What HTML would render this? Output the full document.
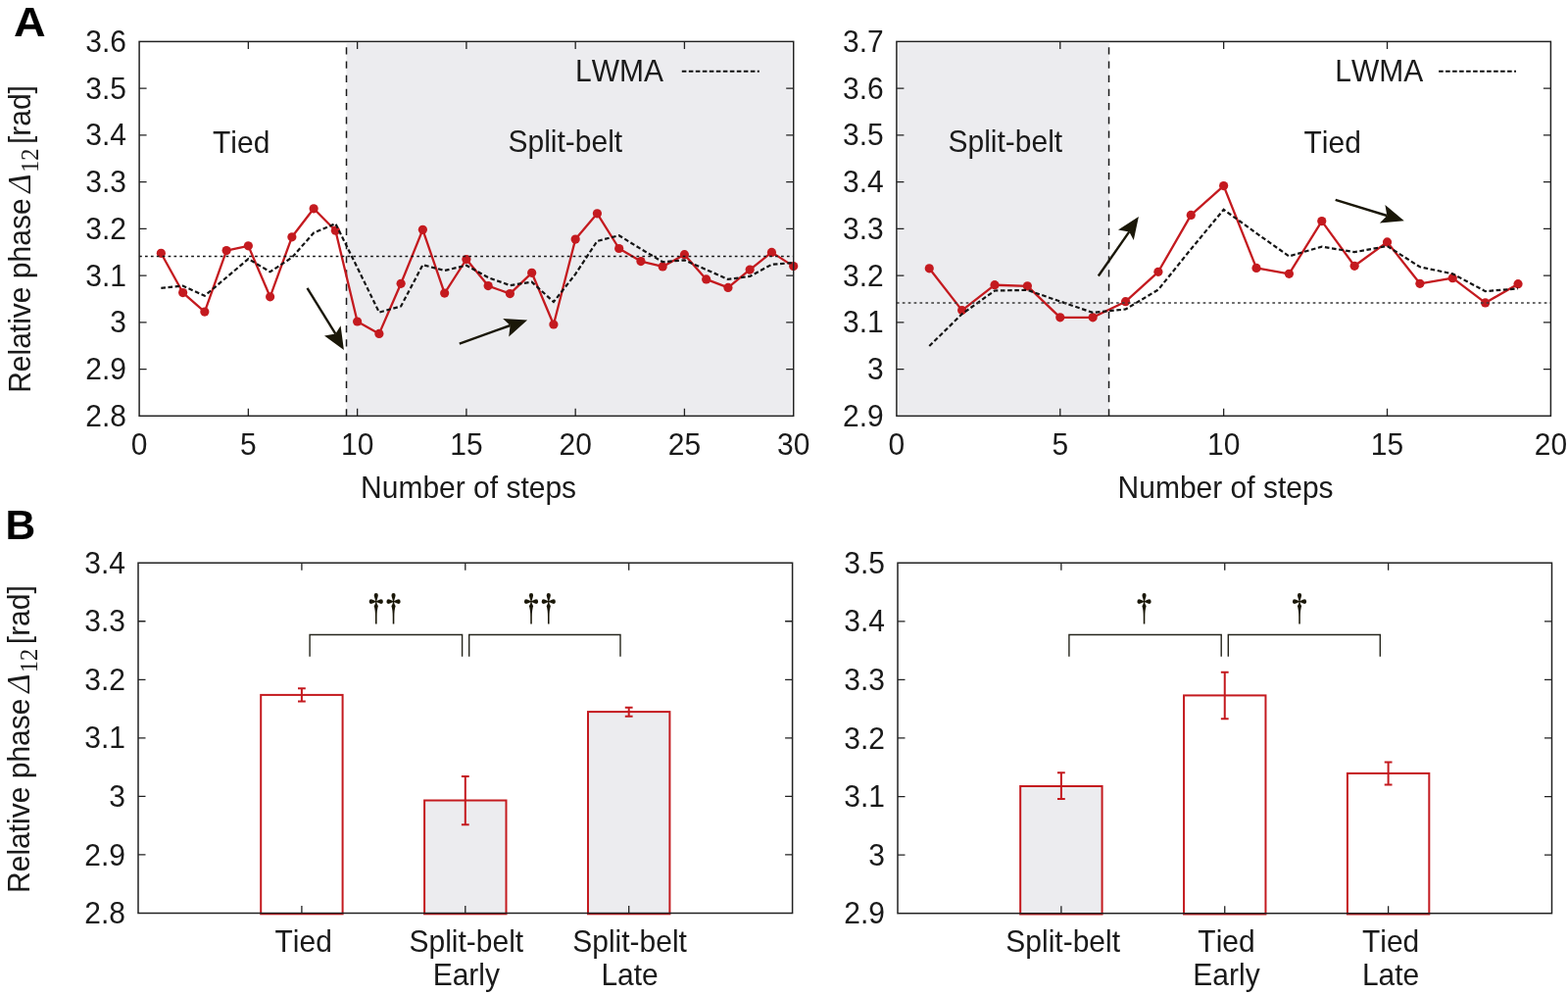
<!DOCTYPE html><html><head><meta charset="utf-8"><title>Relative phase figure</title><style>html,body{margin:0;padding:0;background:#fff;overflow:hidden}svg{display:block}</style></head><body>
<svg width="1600" height="1015" viewBox="0 0 1600 1015" style="font-family:'Liberation Sans',Arial,Helvetica,sans-serif;font-size:30px;font-kerning:none" fill="#1a1a1a">
<rect x="353.51" y="44" width="454.59" height="378.7" fill="#ececef"/>
<line x1="353.51" y1="48.3" x2="353.51" y2="424.3" stroke="#1a1a1a" stroke-width="1.5" stroke-dasharray="7.2 6.99"/>
<polyline points="164.35,258.3 186.61,298.56 208.86,318.1 231.11,255.6 253.37,250.8 275.62,302.8 297.87,241.8 320.13,212.8 342.38,235.2 364.63,328 386.89,340.4 409.14,289.3 431.39,234.3 453.65,299.1 475.9,264.5 498.15,291.6 520.41,299.6 542.66,278.3 564.91,331 587.17,244.1 609.42,217.8 631.67,253.5 653.93,266.6 676.18,271.9 698.43,259.7 720.69,284.9 742.94,293.4 765.19,275.1 787.45,257.4 809.7,271.6" fill="none" stroke="#c41a1f" stroke-width="2.3" stroke-linejoin="round"/>
<circle cx="164.35" cy="258.3" r="4.6" fill="#c41a1f"/>
<circle cx="186.61" cy="298.56" r="4.6" fill="#c41a1f"/>
<circle cx="208.86" cy="318.1" r="4.6" fill="#c41a1f"/>
<circle cx="231.11" cy="255.6" r="4.6" fill="#c41a1f"/>
<circle cx="253.37" cy="250.8" r="4.6" fill="#c41a1f"/>
<circle cx="275.62" cy="302.8" r="4.6" fill="#c41a1f"/>
<circle cx="297.87" cy="241.8" r="4.6" fill="#c41a1f"/>
<circle cx="320.13" cy="212.8" r="4.6" fill="#c41a1f"/>
<circle cx="342.38" cy="235.2" r="4.6" fill="#c41a1f"/>
<circle cx="364.63" cy="328" r="4.6" fill="#c41a1f"/>
<circle cx="386.89" cy="340.4" r="4.6" fill="#c41a1f"/>
<circle cx="409.14" cy="289.3" r="4.6" fill="#c41a1f"/>
<circle cx="431.39" cy="234.3" r="4.6" fill="#c41a1f"/>
<circle cx="453.65" cy="299.1" r="4.6" fill="#c41a1f"/>
<circle cx="475.9" cy="264.5" r="4.6" fill="#c41a1f"/>
<circle cx="498.15" cy="291.6" r="4.6" fill="#c41a1f"/>
<circle cx="520.41" cy="299.6" r="4.6" fill="#c41a1f"/>
<circle cx="542.66" cy="278.3" r="4.6" fill="#c41a1f"/>
<circle cx="564.91" cy="331" r="4.6" fill="#c41a1f"/>
<circle cx="587.17" cy="244.1" r="4.6" fill="#c41a1f"/>
<circle cx="609.42" cy="217.8" r="4.6" fill="#c41a1f"/>
<circle cx="631.67" cy="253.5" r="4.6" fill="#c41a1f"/>
<circle cx="653.93" cy="266.6" r="4.6" fill="#c41a1f"/>
<circle cx="676.18" cy="271.9" r="4.6" fill="#c41a1f"/>
<circle cx="698.43" cy="259.7" r="4.6" fill="#c41a1f"/>
<circle cx="720.69" cy="284.9" r="4.6" fill="#c41a1f"/>
<circle cx="742.94" cy="293.4" r="4.6" fill="#c41a1f"/>
<circle cx="765.19" cy="275.1" r="4.6" fill="#c41a1f"/>
<circle cx="787.45" cy="257.4" r="4.6" fill="#c41a1f"/>
<circle cx="809.7" cy="271.6" r="4.6" fill="#c41a1f"/>
<polyline points="164.35,293.8 186.61,291.6 208.86,301.75 231.11,283 253.37,264.1 275.62,277.3 297.87,262.7 320.13,237.5 342.38,228.1 364.63,273 386.89,318.6 409.14,312.4 431.39,270.2 453.65,276 475.9,270.7 498.15,283.1 520.41,291.1 542.66,287.6 564.91,308 587.17,279.6 609.42,245.9 631.67,240.2 653.93,253.9 676.18,267.2 698.43,265.4 720.69,275.1 742.94,284.9 765.19,281.9 787.45,269.8 809.7,268" fill="none" stroke="#141414" stroke-width="2.2" stroke-dasharray="4.6 2.6"/>
<line x1="142.1" y1="261.43" x2="809.7" y2="261.43" stroke="#151515" stroke-width="1.4" stroke-dasharray="2.7 3.2"/>
<path d="M253.37 424.3V416.8M253.37 42.4V49.9M364.63 424.3V416.8M364.63 42.4V49.9M475.9 424.3V416.8M475.9 42.4V49.9M587.17 424.3V416.8M587.17 42.4V49.9M698.43 424.3V416.8M698.43 42.4V49.9M142.1 376.56H149.6M809.7 376.56H802.2M142.1 328.82H149.6M809.7 328.82H802.2M142.1 281.09H149.6M809.7 281.09H802.2M142.1 233.35H149.6M809.7 233.35H802.2M142.1 185.61H149.6M809.7 185.61H802.2M142.1 137.88H149.6M809.7 137.88H802.2M142.1 90.14H149.6M809.7 90.14H802.2" stroke="#222" stroke-width="1.3" fill="none"/>
<rect x="142.1" y="42.4" width="667.6" height="381.9" fill="none" stroke="#222" stroke-width="1.5"/>
<text transform="translate(142.1 463.8) scale(1 1.035)" text-anchor="middle">0</text>
<text transform="translate(253.37 463.8) scale(1 1.035)" text-anchor="middle">5</text>
<text transform="translate(364.63 463.8) scale(1 1.035)" text-anchor="middle">10</text>
<text transform="translate(475.9 463.8) scale(1 1.035)" text-anchor="middle">15</text>
<text transform="translate(587.17 463.8) scale(1 1.035)" text-anchor="middle">20</text>
<text transform="translate(698.43 463.8) scale(1 1.035)" text-anchor="middle">25</text>
<text transform="translate(809.7 463.8) scale(1 1.035)" text-anchor="middle">30</text>
<text transform="translate(129 434.9) scale(1 1.035)" text-anchor="end">2.8</text>
<text transform="translate(129 387.16) scale(1 1.035)" text-anchor="end">2.9</text>
<text transform="translate(129 339.42) scale(1 1.035)" text-anchor="end">3</text>
<text transform="translate(129 291.69) scale(1 1.035)" text-anchor="end">3.1</text>
<text transform="translate(129 243.95) scale(1 1.035)" text-anchor="end">3.2</text>
<text transform="translate(129 196.21) scale(1 1.035)" text-anchor="end">3.3</text>
<text transform="translate(129 148.47) scale(1 1.035)" text-anchor="end">3.4</text>
<text transform="translate(129 100.74) scale(1 1.035)" text-anchor="end">3.5</text>
<text transform="translate(129 53) scale(1 1.035)" text-anchor="end">3.6</text>
<text transform="translate(217 155.9) scale(1 1.035)">Tied</text>
<text transform="translate(518.5 155) scale(1 1.035)">Split-belt</text>
<text transform="translate(587.1 82.8) scale(1 1.035)">LWMA</text>
<line x1="695.8" y1="72.7" x2="774.8" y2="72.7" stroke="#111" stroke-width="2" stroke-dasharray="4.6 2.4"/>
<line x1="313.5" y1="293.8" x2="342.4" y2="340.6" stroke="#1a1708" stroke-width="2.4"/>
<path d="M350.9 356.9L331 342.4L342.4 340.6L347.6 332.3Z" fill="#1a1708"/>
<line x1="468.8" y1="350.6" x2="520.6" y2="332" stroke="#1a1708" stroke-width="2.4"/>
<path d="M538.1 326.4L513.1 325.1L520.6 332L519.2 343.4Z" fill="#1a1708"/>
<text transform="translate(478.1 508.4) scale(1 1.035)" text-anchor="middle">Number of steps</text>
<rect x="916.5" y="44" width="215.34" height="378.7" fill="#ececef"/>
<line x1="1131.54" y1="48.3" x2="1131.54" y2="424.3" stroke="#1a1a1a" stroke-width="1.5" stroke-dasharray="7.2 6.99"/>
<polyline points="948.27,273.8 981.65,316.6 1015.02,290.7 1048.4,291.8 1081.78,323.8 1115.15,323.8 1148.53,307.7 1181.9,277.3 1215.28,219.4 1248.65,189.6 1282.03,273.4 1315.4,279.3 1348.78,225.6 1382.15,271.3 1415.53,246.9 1448.9,289.3 1482.28,283.7 1515.65,308.9 1549.03,289.7" fill="none" stroke="#c41a1f" stroke-width="2.3" stroke-linejoin="round"/>
<circle cx="948.27" cy="273.8" r="4.6" fill="#c41a1f"/>
<circle cx="981.65" cy="316.6" r="4.6" fill="#c41a1f"/>
<circle cx="1015.02" cy="290.7" r="4.6" fill="#c41a1f"/>
<circle cx="1048.4" cy="291.8" r="4.6" fill="#c41a1f"/>
<circle cx="1081.78" cy="323.8" r="4.6" fill="#c41a1f"/>
<circle cx="1115.15" cy="323.8" r="4.6" fill="#c41a1f"/>
<circle cx="1148.53" cy="307.7" r="4.6" fill="#c41a1f"/>
<circle cx="1181.9" cy="277.3" r="4.6" fill="#c41a1f"/>
<circle cx="1215.28" cy="219.4" r="4.6" fill="#c41a1f"/>
<circle cx="1248.65" cy="189.6" r="4.6" fill="#c41a1f"/>
<circle cx="1282.03" cy="273.4" r="4.6" fill="#c41a1f"/>
<circle cx="1315.4" cy="279.3" r="4.6" fill="#c41a1f"/>
<circle cx="1348.78" cy="225.6" r="4.6" fill="#c41a1f"/>
<circle cx="1382.15" cy="271.3" r="4.6" fill="#c41a1f"/>
<circle cx="1415.53" cy="246.9" r="4.6" fill="#c41a1f"/>
<circle cx="1448.9" cy="289.3" r="4.6" fill="#c41a1f"/>
<circle cx="1482.28" cy="283.7" r="4.6" fill="#c41a1f"/>
<circle cx="1515.65" cy="308.9" r="4.6" fill="#c41a1f"/>
<circle cx="1549.03" cy="289.7" r="4.6" fill="#c41a1f"/>
<polyline points="948.27,353 981.65,320.3 1015.02,296.5 1048.4,295.9 1081.78,307.5 1115.15,318.9 1148.53,315.5 1181.9,295.5 1215.28,254.1 1248.65,213.8 1282.03,237.9 1315.4,261.4 1348.78,251.6 1382.15,257.2 1415.53,251 1448.9,272.3 1482.28,279.3 1515.65,297.1 1549.03,294.4" fill="none" stroke="#141414" stroke-width="2.2" stroke-dasharray="4.6 2.6"/>
<line x1="914.9" y1="308.97" x2="1582.4" y2="308.97" stroke="#3a3a3a" stroke-width="1.4" stroke-dasharray="2.7 3.2"/>
<path d="M1081.78 424.3V416.8M1081.78 42.4V49.9M1248.65 424.3V416.8M1248.65 42.4V49.9M1415.53 424.3V416.8M1415.53 42.4V49.9M914.9 376.56H922.4M1582.4 376.56H1574.9M914.9 328.82H922.4M1582.4 328.82H1574.9M914.9 281.09H922.4M1582.4 281.09H1574.9M914.9 233.35H922.4M1582.4 233.35H1574.9M914.9 185.61H922.4M1582.4 185.61H1574.9M914.9 137.88H922.4M1582.4 137.88H1574.9M914.9 90.14H922.4M1582.4 90.14H1574.9" stroke="#222" stroke-width="1.3" fill="none"/>
<rect x="914.9" y="42.4" width="667.5" height="381.9" fill="none" stroke="#222" stroke-width="1.5"/>
<text transform="translate(914.9 463.8) scale(1 1.035)" text-anchor="middle">0</text>
<text transform="translate(1081.78 463.8) scale(1 1.035)" text-anchor="middle">5</text>
<text transform="translate(1248.65 463.8) scale(1 1.035)" text-anchor="middle">10</text>
<text transform="translate(1415.53 463.8) scale(1 1.035)" text-anchor="middle">15</text>
<text transform="translate(1582.4 463.8) scale(1 1.035)" text-anchor="middle">20</text>
<text transform="translate(901.8 434.9) scale(1 1.035)" text-anchor="end">2.9</text>
<text transform="translate(901.8 387.16) scale(1 1.035)" text-anchor="end">3</text>
<text transform="translate(901.8 339.42) scale(1 1.035)" text-anchor="end">3.1</text>
<text transform="translate(901.8 291.69) scale(1 1.035)" text-anchor="end">3.2</text>
<text transform="translate(901.8 243.95) scale(1 1.035)" text-anchor="end">3.3</text>
<text transform="translate(901.8 196.21) scale(1 1.035)" text-anchor="end">3.4</text>
<text transform="translate(901.8 148.47) scale(1 1.035)" text-anchor="end">3.5</text>
<text transform="translate(901.8 100.74) scale(1 1.035)" text-anchor="end">3.6</text>
<text transform="translate(901.8 53) scale(1 1.035)" text-anchor="end">3.7</text>
<text transform="translate(967.5 155) scale(1 1.035)">Split-belt</text>
<text transform="translate(1330.5 155.9) scale(1 1.035)">Tied</text>
<text transform="translate(1362.3 82.8) scale(1 1.035)">LWMA</text>
<line x1="1468.1" y1="72.7" x2="1547" y2="72.7" stroke="#111" stroke-width="2" stroke-dasharray="4.6 2.4"/>
<line x1="1120.8" y1="281.5" x2="1152.3" y2="236.4" stroke="#1a1708" stroke-width="2.4"/>
<path d="M1161.9 221.1L1141 234.4L1152.3 236.4L1156.8 244.9Z" fill="#1a1708"/>
<line x1="1362.7" y1="203.8" x2="1415.3" y2="220" stroke="#1a1708" stroke-width="2.4"/>
<path d="M1432.8 225.3L1413.4 209.1L1415.3 220L1407.9 227.5Z" fill="#1a1708"/>
<text transform="translate(1250.6 508.4) scale(1 1.035)" text-anchor="middle">Number of steps</text>
<rect x="266.2" y="708.9" width="83.4" height="223.4" fill="#fff" stroke="#c41a1f" stroke-width="2"/>
<path d="M307.9 702.3V715.5M304 702.3h7.8M304 715.5h7.8" stroke="#c41a1f" stroke-width="2" fill="none"/>
<rect x="433.1" y="816.5" width="83.4" height="115.8" fill="#ececef" stroke="#c41a1f" stroke-width="2"/>
<path d="M474.8 792.1V841.3M470.9 792.1h7.8M470.9 841.3h7.8" stroke="#c41a1f" stroke-width="2" fill="none"/>
<rect x="600" y="726.1" width="83.4" height="206.2" fill="#ececef" stroke="#c41a1f" stroke-width="2"/>
<path d="M641.7 721.8V730.7M637.8 721.8h7.8M637.8 730.7h7.8" stroke="#c41a1f" stroke-width="2" fill="none"/>
<path d="M307.9 931.5V924M307.9 574.2V581.7M474.8 931.5V924M474.8 574.2V581.7M641.7 931.5V924M641.7 574.2V581.7M141 871.95H148.5M808.6 871.95H801.1M141 812.4H148.5M808.6 812.4H801.1M141 752.85H148.5M808.6 752.85H801.1M141 693.3H148.5M808.6 693.3H801.1M141 633.75H148.5M808.6 633.75H801.1" stroke="#222" stroke-width="1.3" fill="none"/>
<rect x="141" y="574.2" width="667.6" height="357.3" fill="none" stroke="#222" stroke-width="1.5"/>
<text transform="translate(127.9 942.1) scale(1 1.035)" text-anchor="end">2.8</text>
<text transform="translate(127.9 882.55) scale(1 1.035)" text-anchor="end">2.9</text>
<text transform="translate(127.9 823) scale(1 1.035)" text-anchor="end">3</text>
<text transform="translate(127.9 763.45) scale(1 1.035)" text-anchor="end">3.1</text>
<text transform="translate(127.9 703.9) scale(1 1.035)" text-anchor="end">3.2</text>
<text transform="translate(127.9 644.35) scale(1 1.035)" text-anchor="end">3.3</text>
<text transform="translate(127.9 584.8) scale(1 1.035)" text-anchor="end">3.4</text>
<path d="M316.1 669.8V647.5H471.6V669.8" stroke="#25251c" stroke-width="1.4" fill="none"/>
<path d="M478.7 669.8V647.5H633V669.8" stroke="#25251c" stroke-width="1.4" fill="none"/>
<text transform="translate(383.65 633.9) scale(0.88 1)" text-anchor="middle" style="font-family:IPAGothic,'Liberation Serif',serif;font-size:35.3px" fill="#1a1708">&#8224;</text>
<text transform="translate(401.6 633.9) scale(0.88 1)" text-anchor="middle" style="font-family:IPAGothic,'Liberation Serif',serif;font-size:35.3px" fill="#1a1708">&#8224;</text>
<text transform="translate(542 633.9) scale(0.88 1)" text-anchor="middle" style="font-family:IPAGothic,'Liberation Serif',serif;font-size:35.3px" fill="#1a1708">&#8224;</text>
<text transform="translate(559.7 633.9) scale(0.88 1)" text-anchor="middle" style="font-family:IPAGothic,'Liberation Serif',serif;font-size:35.3px" fill="#1a1708">&#8224;</text>
<text transform="translate(309.7 970.9) scale(1 1.035)" text-anchor="middle">Tied</text>
<text transform="translate(475.8 970.9) scale(1 1.035)" text-anchor="middle">Split-belt</text>
<text transform="translate(475.8 1005.4) scale(1 1.035)" text-anchor="middle">Early</text>
<text transform="translate(642.6 970.9) scale(1 1.035)" text-anchor="middle">Split-belt</text>
<text transform="translate(642.6 1005.4) scale(1 1.035)" text-anchor="middle">Late</text>
<rect x="1041.17" y="802" width="83.4" height="130.5" fill="#ececef" stroke="#c41a1f" stroke-width="2"/>
<path d="M1082.88 788.2V815.1M1078.97 788.2h7.8M1078.97 815.1h7.8" stroke="#c41a1f" stroke-width="2" fill="none"/>
<rect x="1208.05" y="709.4" width="83.4" height="223.1" fill="#fff" stroke="#c41a1f" stroke-width="2"/>
<path d="M1249.75 685.7V733.2M1245.85 685.7h7.8M1245.85 733.2h7.8" stroke="#c41a1f" stroke-width="2" fill="none"/>
<rect x="1374.92" y="788.9" width="83.4" height="143.6" fill="#fff" stroke="#c41a1f" stroke-width="2"/>
<path d="M1416.62 777.5V800.6M1412.72 777.5h7.8M1412.72 800.6h7.8" stroke="#c41a1f" stroke-width="2" fill="none"/>
<path d="M1082.88 931.7V924.2M1082.88 574.2V581.7M1249.75 931.7V924.2M1249.75 574.2V581.7M1416.62 931.7V924.2M1416.62 574.2V581.7M916 872.12H923.5M1583.5 872.12H1576M916 812.53H923.5M1583.5 812.53H1576M916 752.95H923.5M1583.5 752.95H1576M916 693.37H923.5M1583.5 693.37H1576M916 633.78H923.5M1583.5 633.78H1576" stroke="#222" stroke-width="1.3" fill="none"/>
<rect x="916" y="574.2" width="667.5" height="357.5" fill="none" stroke="#222" stroke-width="1.5"/>
<text transform="translate(902.9 942.3) scale(1 1.035)" text-anchor="end">2.9</text>
<text transform="translate(902.9 882.72) scale(1 1.035)" text-anchor="end">3</text>
<text transform="translate(902.9 823.13) scale(1 1.035)" text-anchor="end">3.1</text>
<text transform="translate(902.9 763.55) scale(1 1.035)" text-anchor="end">3.2</text>
<text transform="translate(902.9 703.97) scale(1 1.035)" text-anchor="end">3.3</text>
<text transform="translate(902.9 644.38) scale(1 1.035)" text-anchor="end">3.4</text>
<text transform="translate(902.9 584.8) scale(1 1.035)" text-anchor="end">3.5</text>
<path d="M1090.9 669.8V647.5H1246.2V669.8" stroke="#25251c" stroke-width="1.4" fill="none"/>
<path d="M1253.3 669.8V647.5H1408.3V669.8" stroke="#25251c" stroke-width="1.4" fill="none"/>
<text transform="translate(1167.5 633.9) scale(0.88 1)" text-anchor="middle" style="font-family:IPAGothic,'Liberation Serif',serif;font-size:35.3px" fill="#1a1708">&#8224;</text>
<text transform="translate(1325.9 633.9) scale(0.88 1)" text-anchor="middle" style="font-family:IPAGothic,'Liberation Serif',serif;font-size:35.3px" fill="#1a1708">&#8224;</text>
<text transform="translate(1084.7 970.9) scale(1 1.035)" text-anchor="middle">Split-belt</text>
<text transform="translate(1251.5 970.9) scale(1 1.035)" text-anchor="middle">Tied</text>
<text transform="translate(1251.5 1005.4) scale(1 1.035)" text-anchor="middle">Early</text>
<text transform="translate(1419.1 970.9) scale(1 1.035)" text-anchor="middle">Tied</text>
<text transform="translate(1419.1 1005.4) scale(1 1.035)" text-anchor="middle">Late</text>
<g transform="translate(30.9 0) rotate(-90)">
<text transform="translate(-400.8 0) scale(1 1.035)">Relative phase</text>
<text transform="translate(-196.7 0)" style="font-family:'Liberation Serif',serif;font-style:italic;font-size:33px">&#916;</text>
<text transform="translate(-176.1 8.2)" style="font-family:'Liberation Serif',serif;font-size:24.5px">12</text>
<text transform="translate(-147.1 0) scale(1 1.035)">[rad]</text>
</g>
<g transform="translate(29.9 510.1) rotate(-90)">
<text transform="translate(-400.8 0) scale(1 1.035)">Relative phase</text>
<text transform="translate(-196.7 0)" style="font-family:'Liberation Serif',serif;font-style:italic;font-size:33px">&#916;</text>
<text transform="translate(-176.1 8.2)" style="font-family:'Liberation Serif',serif;font-size:24.5px">12</text>
<text transform="translate(-147.1 0) scale(1 1.035)">[rad]</text>
</g>
<text transform="translate(13.9 37.3) scale(1.05 1)" style="font-weight:bold;font-size:43px" fill="#000">A</text>
<text transform="translate(5.4 549.8) scale(0.985 1)" style="font-weight:bold;font-size:43.2px" fill="#000">B</text>
</svg></body></html>
